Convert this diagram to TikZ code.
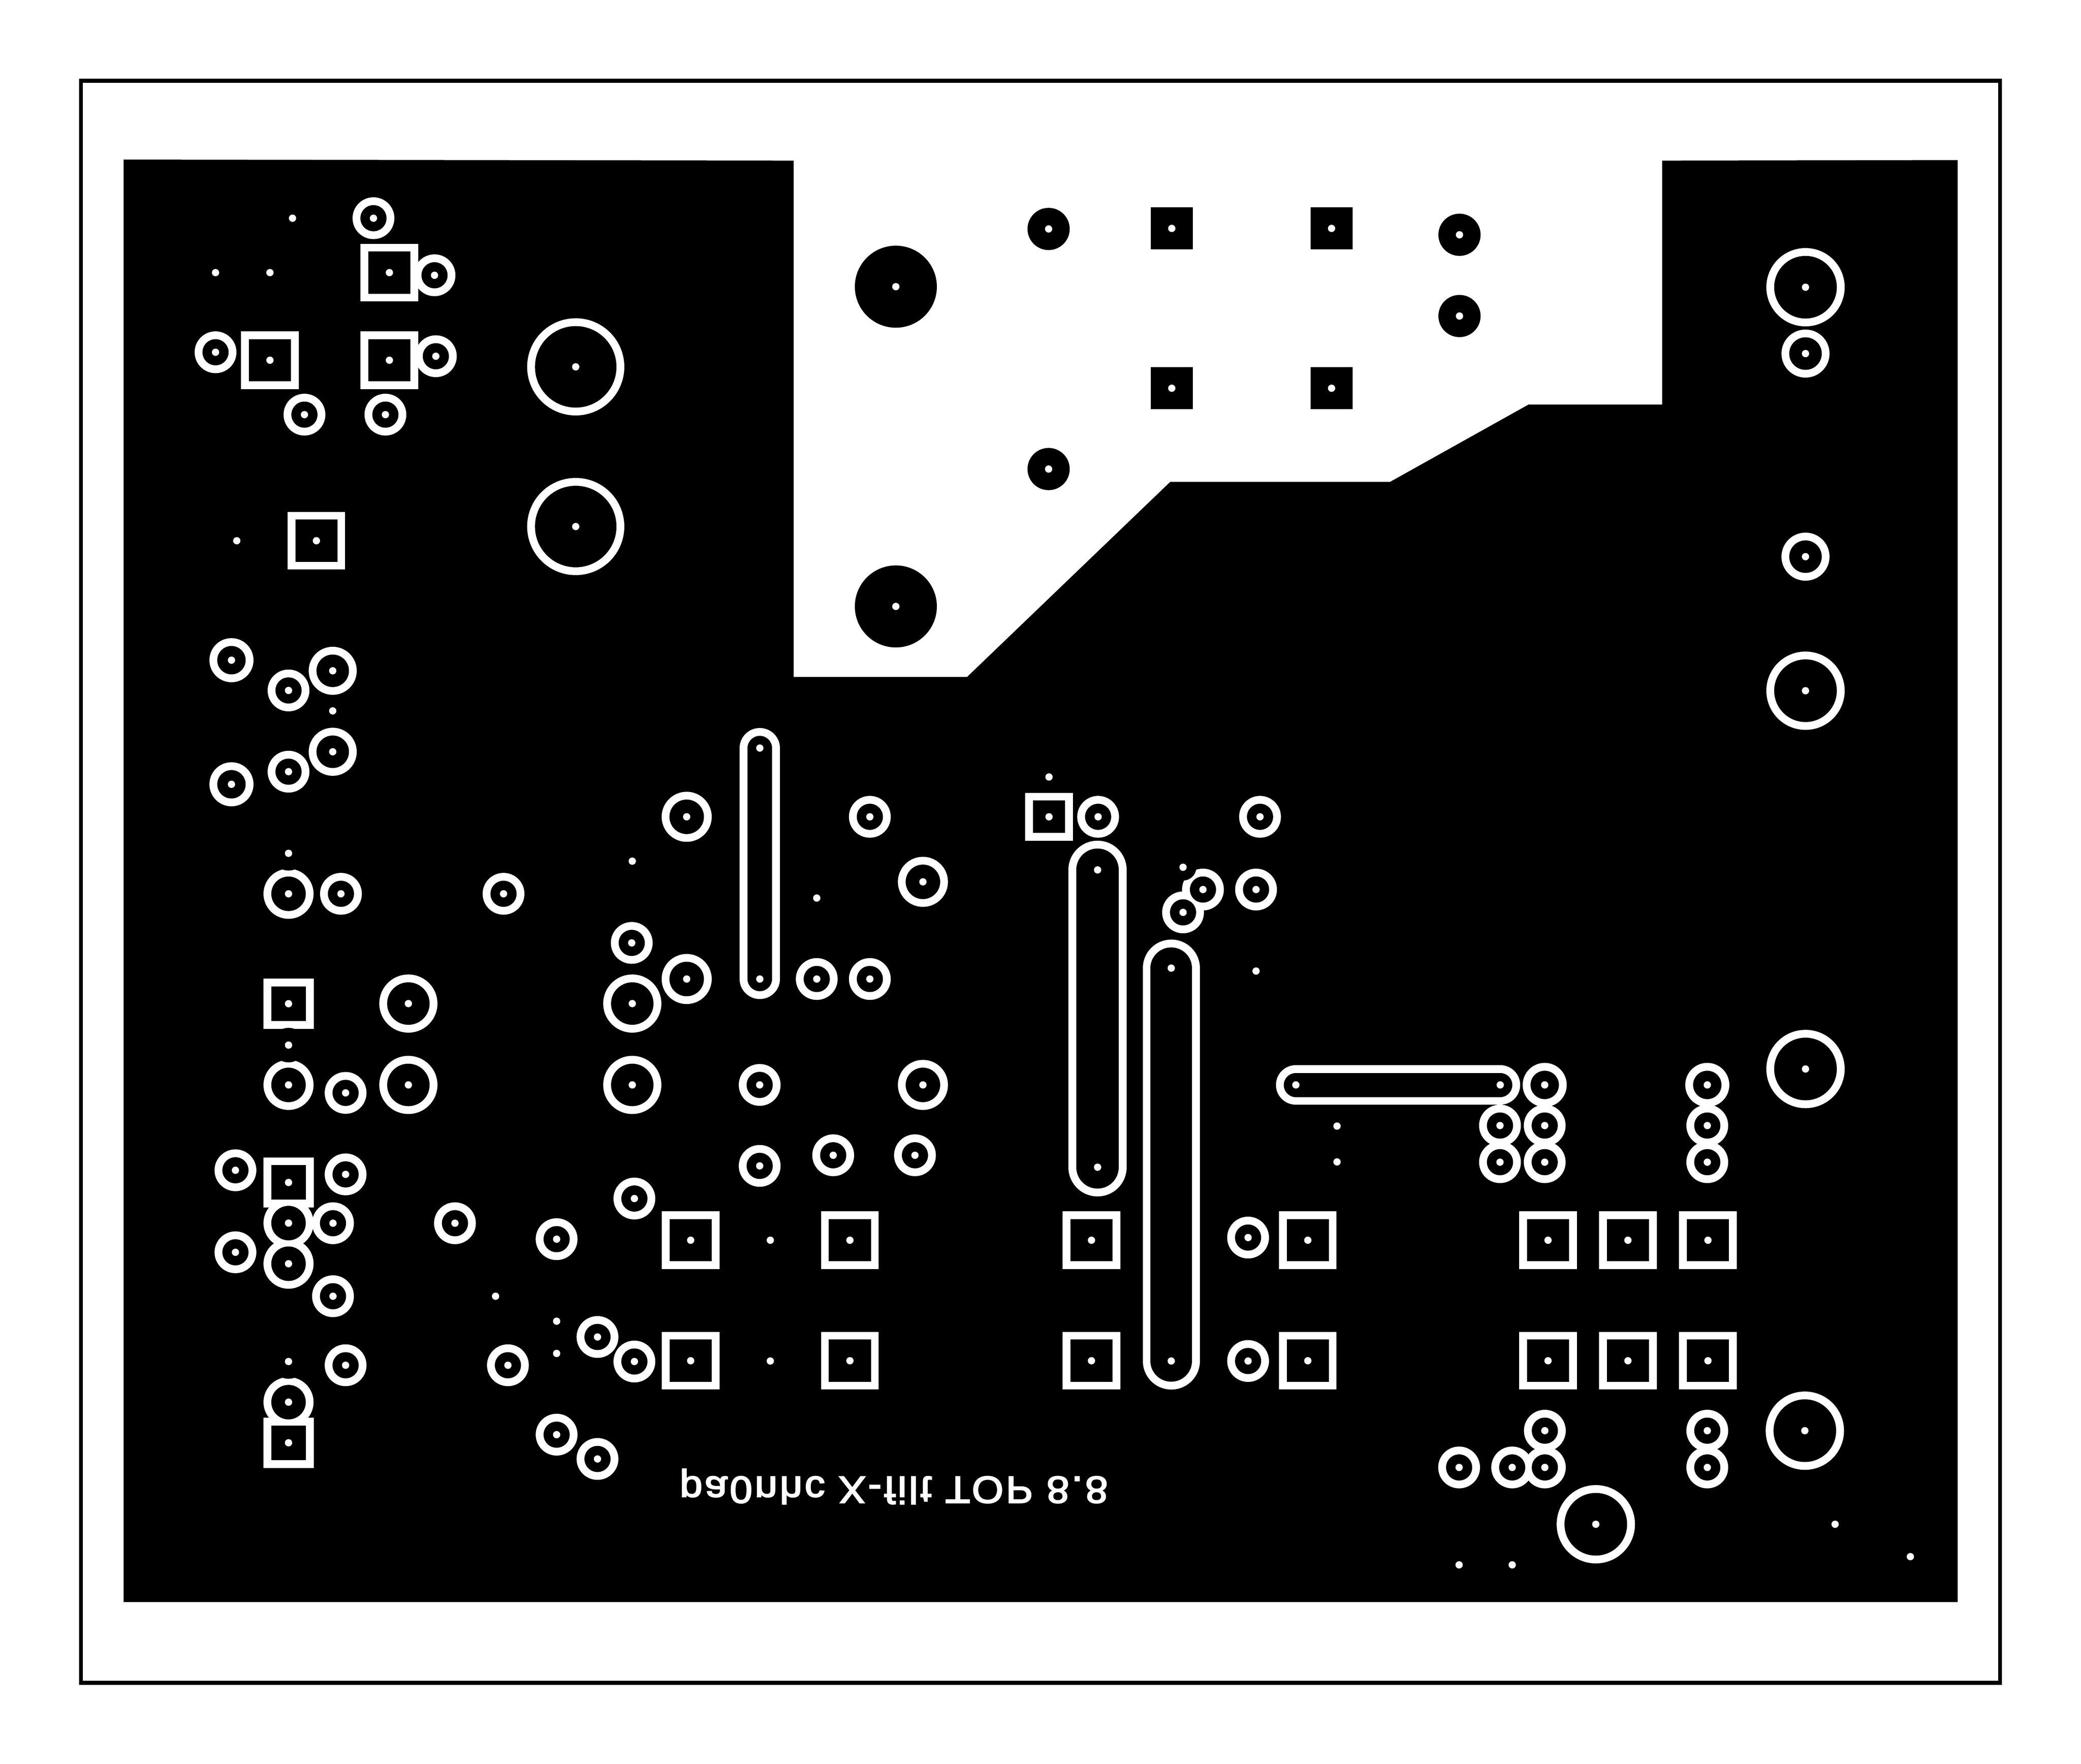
\documentclass[tikz,border=0pt]{standalone}
\usepackage{fontspec}
\setmainfont{Liberation Sans}
\newfontfamily\boardfont[LetterSpace=5.8,FakeBold=3]{Liberation Sans}
\def\ringsS{281/164,327/207,162/265,328/268,229/312,290/312,217/519.8,217/581,256.5/673,379/673,655/615,475.6/710,615/737.2,655/737.2,827/615,949/615,906/669.8,946/669.8,891/687,260/823,572/817,177/881.3,260/884.4,250.5/921.2,177/943.1,250.5/976.2,342.4/921.2,419/933.2,477.6/902.6,572/878,627.4/870,689/870,449.8/1006.9,477.6/1025.4,382.3/1028.2,260/1028.2,419/1080.5,449.8/1098.8,940/932,940/1025,1163.5/847.6,1163.5/875.2,1129.8/847.6,1129.8/875.2,1286/847.6,1286/875.2,1163.6/1077.5,1163.6/1105.2,1139/1105.2,1099/1105.2,1286/1077.5,1286/1105.2}
\def\ringsU{174/497,174/590.5,1163.5/817,1286/817}
\def\ringsT{250.3/505,250.3/566,1360/266,1360/419}
\def\ringsM{217/673,517/615,695/664,517/737.2,217/817,695/817,217/921.1,217/951.7,217/1056}
\def\ringsH{476/755.7,307.3/755.7,307.3/817,476/817}
\def\ringsL{1360/216,1360/520,1360/805,1359.5/1077.5,1202/1148}
\def\ringsX{433.4/276,433.4/396.3}
\def\squaresB{293/205,203/271,293/271,238/407,520/934,640/934,822/934,985/934,1166/934,1226.2/934,1286.5/934,520/1024.8,640/1024.8,822/1024.8,985/1024.8,1166/1024.8,1226.2/1024.8,1286.5/1024.8}
\def\squaresC{217/755.8,217/890.5,217/1086.6}
\def\squaresD{790/615}
\def\dotsA{217/642.5,217/787,217/1025.4}
\def\dotsB{220/164,162/205,203/205,178/407,250.3/535.2,476/648.4,615/676.2,790/585,891/653,946/731.2,1007/848,1007/875,580/934,580/1025,373/976.2,419/995,419/1019.3,1099/1178.6,1139/1178.6,1382.3/1148,1439/1172.4}
\def\padsRound{674.6/215.6/30.9,674.6/456.5/30.9,789.7/172.1/15.9,1099.3/176.5/15.9,1099.3/237.7/15.9,789.7/353/15.9}
\def\padsSquare{882.5/171.7,1002.9/171.7,882.5/292.1,1002.9/292.1}
\def\slots{572.1/563.2/572.1/737.2/15.1,826.6/655/826.6/879/22,882.1/729/882.1/1025/21.5,976/817/1130/817/15}
\tikzset{
  x=1pt,y=-1pt,
  boardframe/.style={draw=black,line width=3.05pt,fill=white},
  copper/.style={fill=black},
  clearance/.style={fill=white},
  padfill/.style={fill=black},
  holefill/.style={fill=white},
  slotclear/.style={line cap=round,draw=white},
  slotpad/.style={line cap=round,draw=black}
}
\newcommand{\roundlayer}[2]{\foreach \x/\y in #1 {\fill[clearance] (\x,\y) circle[radius=#2];}}
\newcommand{\roundpad}[2]{\foreach \x/\y in #1 {\fill[padfill] (\x,\y) circle[radius=#2];}}
\newcommand{\squarelayer}[3]{\foreach \x/\y in #1 {\fill[#3] (\x-#2,\y-#2) rectangle (\x+#2,\y+#2);}}
\newcommand{\holes}[1]{\foreach \x/\y in #1 {\fill[holefill] (\x,\y) circle[radius=2.75];}}
\begin{document}
\begin{tikzpicture}
\useasboundingbox (0,0) rectangle (1568,1329);
\fill[white] (0,0) rectangle (1568,1329);
\draw[boardframe] (61,60.8) rectangle (1507,1267.8);
\fill[copper] (93.2,120.2) -- (598,121) -- (598,510) -- (728.7,510) -- (881.8,363) -- (1047.5,363) -- (1151.7,304.8) -- (1252.4,304.8) -- (1252.4,121) -- (1475,120.6) -- (1475,1207) -- (93.2,1207) -- cycle;
\begin{scope}[shift={(0.4,0.4)}]
% clearances
\roundlayer{\ringsS}{15.75}
\roundlayer{\ringsU}{16.6}
\roundlayer{\ringsT}{18.1}
\roundlayer{\ringsM}{18.85}
\roundlayer{\ringsH}{21.9}
\roundlayer{\ringsL}{29.5}
\roundlayer{\ringsX}{36.6}
\squarelayer{\squaresB}{21.7}{clearance}
\squarelayer{\squaresC}{18.9}{clearance}
\squarelayer{\squaresD}{18.1}{clearance}
\foreach \xa/\ya/\xb/\yb/\r in \slots {\draw[slotclear,line width=2*\r] (\xa,\ya) -- (\xb,\yb);}
% pads
\roundpad{\ringsS}{9.85}
\roundpad{\ringsU}{10.7}
\roundpad{\ringsT}{12.25}
\roundpad{\ringsM}{13}
\roundpad{\ringsH}{16}
\roundpad{\ringsL}{23.6}
\roundpad{\ringsX}{30.7}
\squarelayer{\squaresB}{15.9}{padfill}
\squarelayer{\squaresC}{13}{padfill}
\squarelayer{\squaresD}{12.2}{padfill}
\squarelayer{\padsSquare}{15.8}{padfill}
\foreach \x/\y/\r in \padsRound {\fill[padfill] (\x,\y) circle[radius=\r];}
\foreach \xa/\ya/\xb/\yb/\r in \slots {\draw[slotpad,line width=2*\r-11.8] (\xa,\ya) -- (\xb,\yb);}
\roundpad{\dotsA}{13}
\roundpad{\dotsB}{10}
% drill holes
\holes{\ringsS}\holes{\ringsU}\holes{\ringsT}\holes{\ringsM}\holes{\ringsH}\holes{\ringsL}\holes{\ringsX}
\holes{\squaresB}\holes{\squaresC}\holes{\squaresD}\holes{\padsSquare}\holes{\dotsA}\holes{\dotsB}
\foreach \x/\y/\r in \padsRound {\fill[holefill] (\x,\y) circle[radius=2.75];}
\foreach \xa/\ya/\xb/\yb/\r in \slots {\fill[holefill] (\xa,\ya) circle[radius=2.75] (\xb,\yb) circle[radius=2.75];}
\end{scope}
\node[text=white,inner sep=0pt,anchor=base] (label) at (673.5,1112.6) {\scalebox{1.075}[-1]{\fontsize{28.5}{30}\selectfont\boardfont pa0nhc X-filt TOP 8.8}};
\end{tikzpicture}
\end{document}
